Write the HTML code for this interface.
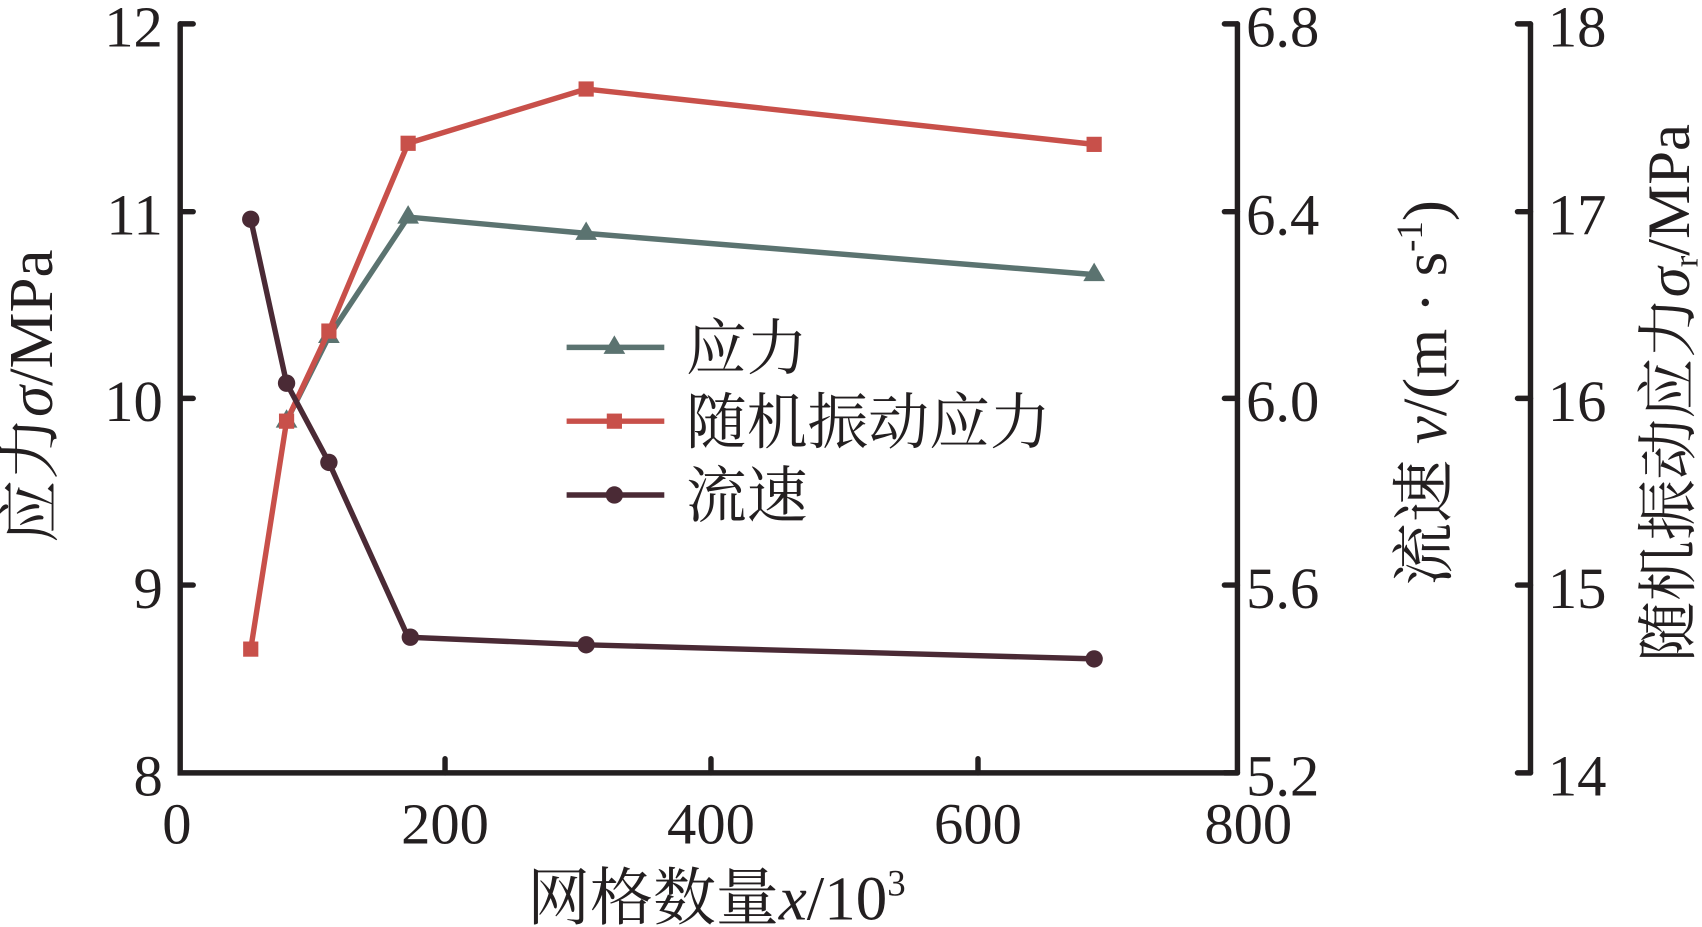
<!DOCTYPE html>
<html><head><meta charset="utf-8"><style>
html,body{margin:0;padding:0;background:#fff;}
svg{display:block;}
text{font-family:"Liberation Serif","Noto Serif CJK SC",serif;fill:#231f20;}
</style></head><body>
<svg width="1702" height="927" viewBox="0 0 1568 854" preserveAspectRatio="none">
<g stroke="#231f20" stroke-width="5" fill="none" stroke-linecap="round">
<path d="M166 22 V712 H1140"/>
<path d="M166 22 h12 M166 195 h12 M166 367 h12 M166 539 h12"/>
<path d="M410 712 v-13 M655 712 v-13 M901 712 v-13"/>
<path d="M1140 22 V712"/>
<path d="M1140 22 h-12 M1140 195 h-12 M1140 367 h-12 M1140 539 h-12 M1140 712 h-12"/>
<path d="M1410 22 V712"/>
<path d="M1410 22 h-12 M1410 195 h-12 M1410 367 h-12 M1410 539 h-12 M1410 712 h-12"/>
</g>
<g font-size="54" text-anchor="end">
<text x="150" y="43">12</text><text x="150" y="216">11</text><text x="150" y="388">10</text><text x="150" y="560">9</text><text x="150" y="733">8</text>
</g>
<g font-size="54" text-anchor="start">
<text x="1148" y="43">6.8</text><text x="1148" y="216">6.4</text><text x="1148" y="388">6.0</text><text x="1148" y="560">5.6</text><text x="1148" y="733">5.2</text>
<text x="1426" y="43">18</text><text x="1426" y="216">17</text><text x="1426" y="388">16</text><text x="1426" y="560">15</text><text x="1426" y="733">14</text>
</g>
<g font-size="54" text-anchor="middle">
<text x="163" y="777">0</text><text x="410" y="777">200</text><text x="655" y="777">400</text><text x="901" y="777">600</text><text x="1150" y="777">800</text>
</g>
<text x="660" y="847" font-size="58" text-anchor="middle">网格数量<tspan font-style="italic">x</tspan>/10<tspan font-size="34" dy="-22">3</tspan></text>
<text transform="translate(48,365) rotate(-90)" font-size="58" text-anchor="middle">应力<tspan font-style="italic">σ</tspan>/MPa</text>
<text transform="translate(1332,362) rotate(-90)" font-size="58" text-anchor="middle">流速 <tspan font-style="italic">v</tspan>/(m · s<tspan font-size="34" dy="-22">-1</tspan><tspan dy="22">)</tspan></text>
<text transform="translate(1556,362) rotate(-90)" font-size="56" text-anchor="middle">随机振动应力<tspan font-style="italic">σ</tspan><tspan font-size="32" dy="8">r</tspan><tspan dy="-8">/MPa</tspan></text>
<!-- stress -->
<g stroke="#5b7370" fill="#5b7370" stroke-width="5">
<polyline fill="none" points="264,388 303,310 376,200 540,215 1008,253"/>
<path d="M303 299 l10 17 h-20z M376 189 l10 17 h-20z M540 204 l10 17 h-20z M1008 242 l10 17 h-20z M264 377 l10 17 h-20z" stroke="none"/>
</g>
<!-- random vibration -->
<g stroke="#c8504a" fill="#c8504a" stroke-width="5">
<polyline fill="none" points="231,598 264,388 303,305 376,132 540,82 1008,133"/>
<g stroke="none"><rect x="224" y="591" width="14" height="14"/><rect x="257" y="381" width="14" height="14"/><rect x="296" y="298" width="14" height="14"/><rect x="369" y="125" width="14" height="14"/><rect x="533" y="75" width="14" height="14"/><rect x="1001" y="126" width="14" height="14"/></g>
</g>
<!-- flow -->
<g stroke="#4a2a35" fill="#4a2a35" stroke-width="5">
<polyline fill="none" points="231,202 264,353 303,426 376,587 540,594 1008,607"/>
<g stroke="none"><circle cx="231" cy="202" r="8"/><circle cx="264" cy="353" r="8"/><circle cx="303" cy="426" r="8"/><circle cx="378" cy="587" r="8"/><circle cx="540" cy="594" r="8"/><circle cx="1008" cy="607" r="8"/></g>
</g>
<!-- legend -->
<g stroke-width="5">
<line x1="522" y1="320" x2="612" y2="320" stroke="#5b7370"/><path d="M566 309 l10 17 h-20z" fill="#5b7370"/>
<line x1="522" y1="388" x2="612" y2="388" stroke="#c8504a"/><rect x="559" y="381" width="14" height="14" fill="#c8504a"/>
<line x1="522" y1="456" x2="612" y2="456" stroke="#4a2a35"/><circle cx="566" cy="456" r="8" fill="#4a2a35"/>
</g>
<g font-size="56"><text x="632" y="340">应力</text><text x="632" y="408">随机振动应力</text><text x="632" y="476">流速</text></g>
</svg>
</body></html>
